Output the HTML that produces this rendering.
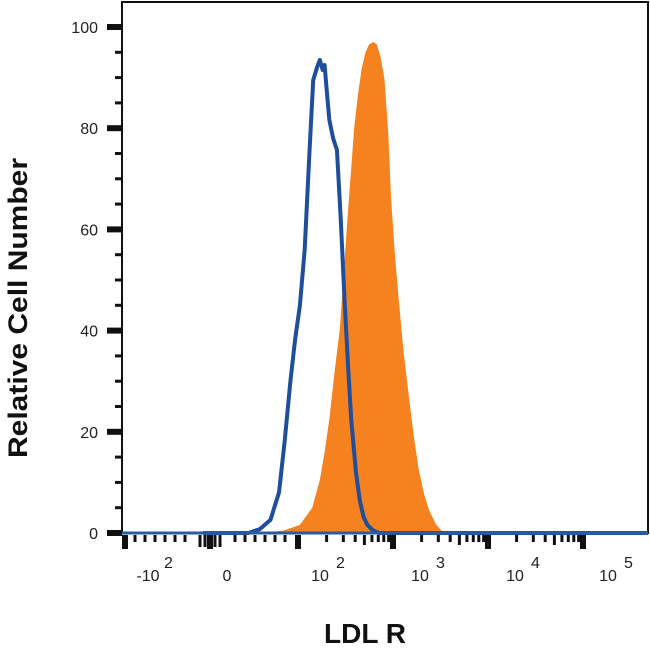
<!DOCTYPE html>
<html><head><meta charset="utf-8"><style>
body{margin:0;background:#fff;}
svg{display:block;font-family:"Liberation Sans",sans-serif;}
</style></head><body>
<svg id="chart" width="650" height="654"></svg>
<script>
const yTicks=[0,20,40,60,80,100];
const xDecades=[2,3,4,5];
const blueU=[1.00,1.48,1.60,1.71,1.80,1.86,1.92,1.97,2.02,2.07,2.12,2.16,2.20,2.23,2.26,2.28,2.30,2.33,2.37,2.41,2.45,2.49,2.53,2.56,2.61,2.65,2.69,2.73,2.79,2.85,5.7];
const blueV=[0,0,0.8,2.6,8,18.2,30,38.3,45,55.9,75,89.5,92,93.5,91.5,92.5,88,81.6,78,75.7,62,46,32,22.5,12,6.5,3.2,1.6,0.5,0,0];
const orangeU=[1.60,1.85,2.02,2.15,2.23,2.28,2.33,2.38,2.44,2.48,2.52,2.56,2.59,2.63,2.67,2.71,2.75,2.79,2.83,2.87,2.91,2.95,2.98,3.02,3.06,3.11,3.17,3.22,3.27,3.33,3.38,3.45,3.53];
const orangeV=[0,0.5,1.6,5,10.5,16,22.5,31,40.3,51,62,72,79.8,86.5,91.7,95,96.6,97,96.6,94,89.7,79,66,55,46.2,36,26.5,19,12.6,7.5,4.5,1.8,0];
const NS="http://www.w3.org/2000/svg";
const svg=document.getElementById('chart');
const L=122,R=648,T=2,B=533;
const x=u=>298+(u-2)*95;
const y=v=>B-v*5.06;
function el(t,a,p){const e=document.createElementNS(NS,t);for(const k in a)e.setAttribute(k,a[k]);(p||svg).appendChild(e);return e;}
const fr=el('rect',{x:L,y:T,width:R-L,height:B-T,fill:'#fff',stroke:'#111','stroke-width':2});


const cp=el('clipPath',{id:'clip'});el('rect',{x:L,y:T,width:R-L,height:B-T+3},cp);
let d='M'+x(orangeU[0])+','+y(0);
orangeU.forEach((u,i)=>d+=' L'+x(u)+','+y(orangeV[i]));
d+=' Z';
const o=el('path',{d:d,fill:'#f5821f',stroke:'none'});


let d2='M'+x(blueU[0])+','+y(blueV[0]);
blueU.forEach((u,i)=>d2+=' L'+x(u)+','+y(blueV[i]));
const b=el('path',{d:d2,fill:'none',stroke:'#1f4e9c','stroke-width':4,'stroke-linejoin':'round','clip-path':'url(#clip)'});


const bl=el('line',{x1:L,x2:R,y1:B,y2:B,stroke:'#2a5aa0','stroke-width':3});


yTicks.forEach(v=>{
  const t=el('rect',{x:L-15,y:y(v)-3,width:15,height:6,fill:'#111'});
  
  
  const tx=el('text',{x:L-24,y:y(v)+6,'text-anchor':'end','font-size':16,fill:'#222'});
  tx.textContent=v;
  
  
  if(v<100){for(let k=1;k<4;k++){const m=el('rect',{x:L-7,y:y(v+k*5)-1.5,width:7,height:3,fill:'#111'});
    
    }}
});
const maj=[{p:125,l:'-10',e:'2'},{p:210,l:'0',e:''}];
xDecades.forEach(dd=>maj.push({p:x(dd),l:'10',e:String(dd)}));
maj.forEach(m=>{
  const t=el('rect',{x:m.p-3,y:B+2,width:6,height:14,fill:'#111'});
  
  
});
for(let dd=2;dd<5;dd++){for(let k=2;k<10;k++){const p=x(dd+Math.log10(k));
  const m=el('rect',{x:p-1.5,y:B+2,width:3,height:k%5==0?10:7,fill:'#111'});
  
  }}
[135,145,155,165,175,185,200,205,215,220,235,245,255,265,275,285].forEach(p=>{
  const m=el('rect',{x:p-1.5,y:B+2,width:3,height:(p>195&&p<225)?12:7,fill:'#111'});
  
  });
const labs=[{p:148,l:'-10',e:'2'},{p:227,l:'0',e:''},{p:320,l:'10',e:'2'},{p:420,l:'10',e:'3'},{p:515,l:'10',e:'4'},{p:608,l:'10',e:'5'}];
labs.forEach(m=>{
  const tx=el('text',{x:m.p,y:581,'text-anchor':'middle','font-size':16,fill:'#222'});
  tx.textContent=m.l;
  
  
  if(m.e){const s=el('text',{x:m.p+16,y:568,'font-size':16,fill:'#222'});s.textContent=m.e;
  
  }
});
const xt=el('text',{x:365,y:643,'text-anchor':'middle','font-size':28,'font-weight':'bold',fill:'#111'});
xt.textContent='LDL R';


const yt=el('text',{x:0,y:0,'text-anchor':'middle','font-size':27,'font-weight':'bold',fill:'#111',textLength:300,lengthAdjust:'spacingAndGlyphs',transform:'translate(27,308) rotate(-90)'});
yt.textContent='Relative Cell Number';


</script>
</body></html>
